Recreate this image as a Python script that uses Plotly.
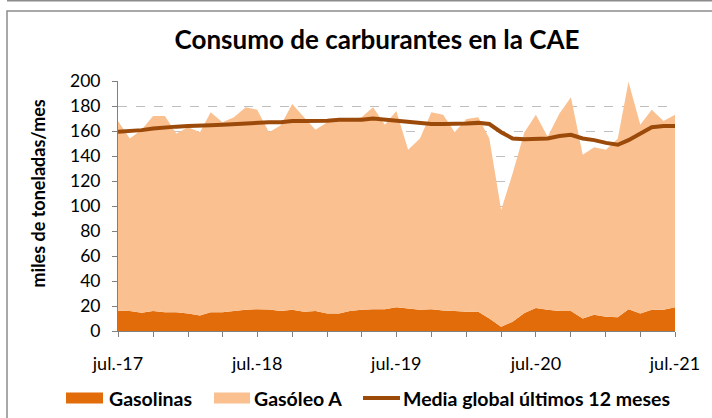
import pandas as pd
import plotly.graph_objects as go

months = pd.date_range("2017-07-01", periods=49, freq="MS")

gasolinas = [16.3, 16, 14.7, 16, 15, 15, 14, 12.5, 15, 15, 16, 17, 17.5,
             17.3, 16, 17, 15.5, 16, 14, 14, 16, 17, 17.5, 17.5, 19,
             18, 17, 17.5, 16.5, 16, 15.5, 15.5, 10, 3.5, 7.5, 14.5, 18.5,
             17, 16, 16, 10, 13, 11.5, 11, 17.5, 14, 17, 17, 19]

total = [168, 154, 161, 172, 172, 158, 163, 159, 175, 167, 171, 179, 177,
         159, 164.6, 181.6, 171, 161, 167, 169, 169, 171, 179, 165, 176,
         145, 154, 175, 173, 159, 169.6, 171, 154, 96.8, 126, 159, 173,
         155.5, 174, 187, 141, 147, 145, 154, 199.5, 165, 177, 168, 173]

gasoleo = [round(t - g, 1) for t, g in zip(total, gasolinas)]

media12 = [159.5, 160, 160.7, 162, 163, 163.5, 164, 164.7, 164.7, 165, 165.5, 166, 167,
           167, 167, 168, 168, 168, 168.3, 169, 169, 169, 170, 169, 168.3,
           167.5, 166.5, 165.6, 165.6, 165.6, 166, 166.5, 165.6, 159, 154, 153.5, 153.5,
           154, 156, 157, 154, 152.7, 150.5, 149, 152.7, 158, 163, 164, 164]

tick_dates = ["2017-07-01", "2018-07-01", "2019-07-01", "2020-07-01", "2021-07-01"]
tick_labels = ["jul.-17", "jul.-18", "jul.-19", "jul.-20", "jul.-21"]
y_ticks = [0, 20, 40, 60, 80, 100, 120, 140, 160, 180, 200]

series_names = ["Gasolinas", "Gasóleo A", "Media global últimos 12 meses"]
series_colors = ["#E36C0A", "#FAC090", "#9C4A0A"]

FONT = "Lato"
fig = go.Figure()
fig.add_trace(go.Scatter(x=months, y=gasolinas, name=series_names[0], stackgroup="s",
                         mode="none", fillcolor=series_colors[0]))
fig.add_trace(go.Scatter(x=months, y=gasoleo, name=series_names[1], stackgroup="s",
                         mode="none", fillcolor=series_colors[1]))
fig.add_trace(go.Scatter(x=months, y=media12, name=series_names[2],
                         mode="lines", line=dict(color=series_colors[2], width=4)))

W, H = 712, 418
L, R, T, B = 118, 675, 81, 331
pw, ph = R - L, B - T
def px(x): return (x - L) / pw
def py(y): return (B - y) / ph

# legend layout (drawn manually so it stays on one row)
leg_y = 398
leg_items = [(66, 103, 107, "rect"), (214, 250, 252, "rect"), (363, 400, 401, "line")]
shapes = [
    dict(type="rect", xref="paper", yref="paper", x0=px(7), y0=py(430), x1=px(720), y1=py(11),
         line=dict(color="#8C8C8C", width=1.5), fillcolor="rgba(0,0,0,0)", layer="below"),
    dict(type="line", xref="paper", yref="paper", x0=px(7), y0=py(0.8), x1=px(712), y1=py(0.8),
         line=dict(color="#8C8C8C", width=1.5)),
]
annotations = [dict(text="<b>miles de toneladas/mes</b>", textangle=-90,
                    x=px(37.5), y=py(194), xref="paper", yref="paper",
                    showarrow=False, font=dict(size=18, family=FONT),
                    xanchor="center", yanchor="middle")]
for (s0, s1, tx, kind), name, col in zip(leg_items, series_names, series_colors):
    if kind == "rect":
        shapes.append(dict(type="rect", xref="paper", yref="paper",
                           x0=px(s0), x1=px(s1), y0=py(leg_y + 5.5), y1=py(leg_y - 5.5),
                           fillcolor=col, line=dict(width=0)))
    else:
        shapes.append(dict(type="line", xref="paper", yref="paper",
                           x0=px(s0), x1=px(s1), y0=py(leg_y), y1=py(leg_y),
                           line=dict(color=col, width=4)))
    annotations.append(dict(text=f"<b>{name}</b>", x=px(tx), y=py(leg_y), xref="paper", yref="paper",
                            xanchor="left", yanchor="middle", showarrow=False,
                            font=dict(size=19.5, family=FONT)))

fig.update_layout(
    width=W, height=H,
    margin=dict(l=L, r=W - R, t=T, b=H - B, autoexpand=False),
    paper_bgcolor="white", plot_bgcolor="white",
    font=dict(family=FONT, color="black"),
    title=dict(text="<b>Consumo de carburantes en la CAE</b>", font=dict(size=26, family=FONT),
               x=377 / W, xanchor="center", xref="container",
               y=1 - 40 / H, yanchor="middle", yref="container"),
    showlegend=False,
    xaxis=dict(type="date", range=["2017-07-01", "2021-07-01"],
               tickvals=tick_dates, ticktext=tick_labels, automargin=False,
               ticks="outside", ticklen=5, tickcolor="#808080",
               showline=True, linecolor="#808080", linewidth=1,
               showgrid=False, zeroline=False,
               tickfont=dict(size=18, family=FONT), ticklabelstandoff=11,
               minor=dict(dtick="M3", tick0="2017-07-01", ticks="outside", ticklen=5,
                          tickcolor="#808080", showgrid=False)),
    yaxis=dict(range=[0, 200], tickvals=y_ticks, automargin=False,
               ticks="outside", ticklen=5, tickcolor="#808080",
               showline=True, linecolor="#808080", linewidth=1,
               showgrid=True, gridcolor="#BFBFBF", griddash="dash", gridwidth=1,
               zeroline=False,
               tickfont=dict(size=17.5, family=FONT), ticklabelstandoff=8),
    annotations=annotations,
    shapes=shapes,
)

fig.write_html("out.html", config={"displayModeBar": False},
               post_script="document.body.style.margin='0px';")
